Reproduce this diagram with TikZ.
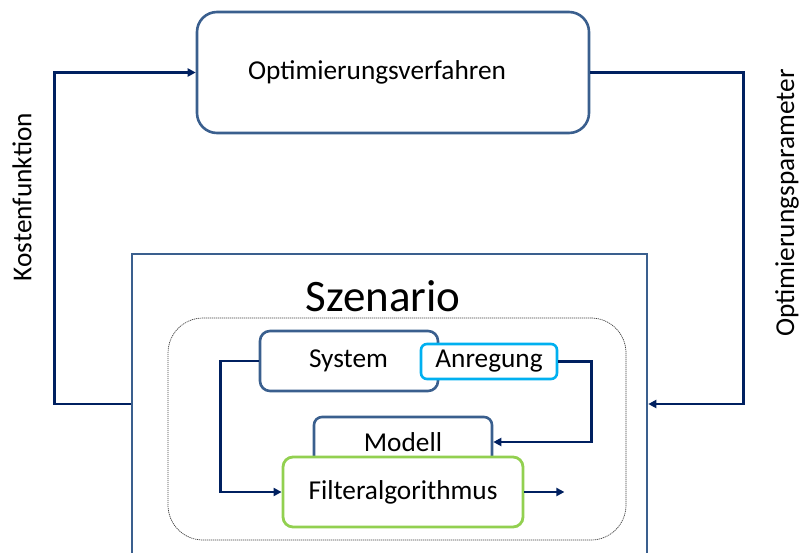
\documentclass[tikz,border=0pt]{standalone}
\usepackage{fontspec}
\setmainfont{Carlito}
\usetikzlibrary{arrows.meta}
\definecolor{frameblue}{HTML}{3A5F8E}
\definecolor{linknavy}{HTML}{002060}
\definecolor{excite}{HTML}{00B0F0}
\definecolor{filtgreen}{HTML}{92D050}
\tikzset{
  box/.style={draw=frameblue, line width=2.6pt, fill=white, inner sep=0pt,
    font=\fontsize{27.3}{31}\selectfont},
  conn/.style={draw=linknavy, line width=2.5pt, -{Triangle[length=8pt,width=8pt]}},
  sidelabel/.style={rotate=90, font=\fontsize{27.3}{31}\selectfont, inner sep=0pt},
}
\begin{document}
\begin{tikzpicture}[x=1pt, y=-1pt]
\useasboundingbox (0,0) rectangle (800,552);

% outer optimisation block
\node[box, rounded corners=20pt, minimum height=121pt, inner xsep=51pt,
      text width=290pt, align=left] (opt) at (393,72.5) {Optimierungsverfahren};

% scenario frame (its lower edge lies just below the page)
\node[draw=frameblue, line width=2.6pt, minimum width=515pt, minimum height=300pt,
      inner sep=0pt] (scen) at (389.5,404) {};
\node[font=\fontsize{45}{50}\selectfont, inner sep=0pt] (scentitle) at (383,296) {Szenario};

% dotted group around the inner blocks
\node[draw=black!75, line width=0.7pt, dash pattern=on 1.2pt off 0.8pt,
      rounded corners=35pt, minimum width=458pt, minimum height=222pt,
      inner sep=0pt] (grp) at (397,429) {};

% inner blocks
\node[box, rounded corners=10pt, minimum width=178pt, minimum height=60pt,
      text width=178pt, align=left, inner xsep=0pt] (sys) at (349,361) {\hspace*{49pt}System};
\node[box, draw=excite, rounded corners=6pt, minimum width=136pt,
      minimum height=35pt] (anr) at (489,361.5) {Anregung};
\node[box, rounded corners=8pt, minimum width=178pt,
      minimum height=50pt] (mod) at (403,442) {Modell};
\node[box, draw=filtgreen, line width=2.8pt, rounded corners=10pt, minimum width=240pt,
      minimum height=70pt] (filt) at (403,492) {Filteralgorithmus};

% side labels
\node[sidelabel] (costlbl) at (22,197) {Kostenfunktion};
\node[sidelabel] (paramlbl) at (787,203) {Optimierungsparameter};

% feedback loop
\draw[conn] (scen.west) -- ++(-76,0) |- (opt.west);
\draw[conn] (opt.east) -| ([xshift=95pt]scen.east) -- (scen.east);

% signal flow inside the scenario
\draw[conn] (sys.west) -- ++(-38,0) |- (filt.west);
\draw[conn] (anr.east) -- ++(33,0) |- (mod.east);
\coordinate (filtout) at ([xshift=40pt]filt.east);
\draw[conn] (filt.east) -- (filtout);
\end{tikzpicture}
\end{document}
